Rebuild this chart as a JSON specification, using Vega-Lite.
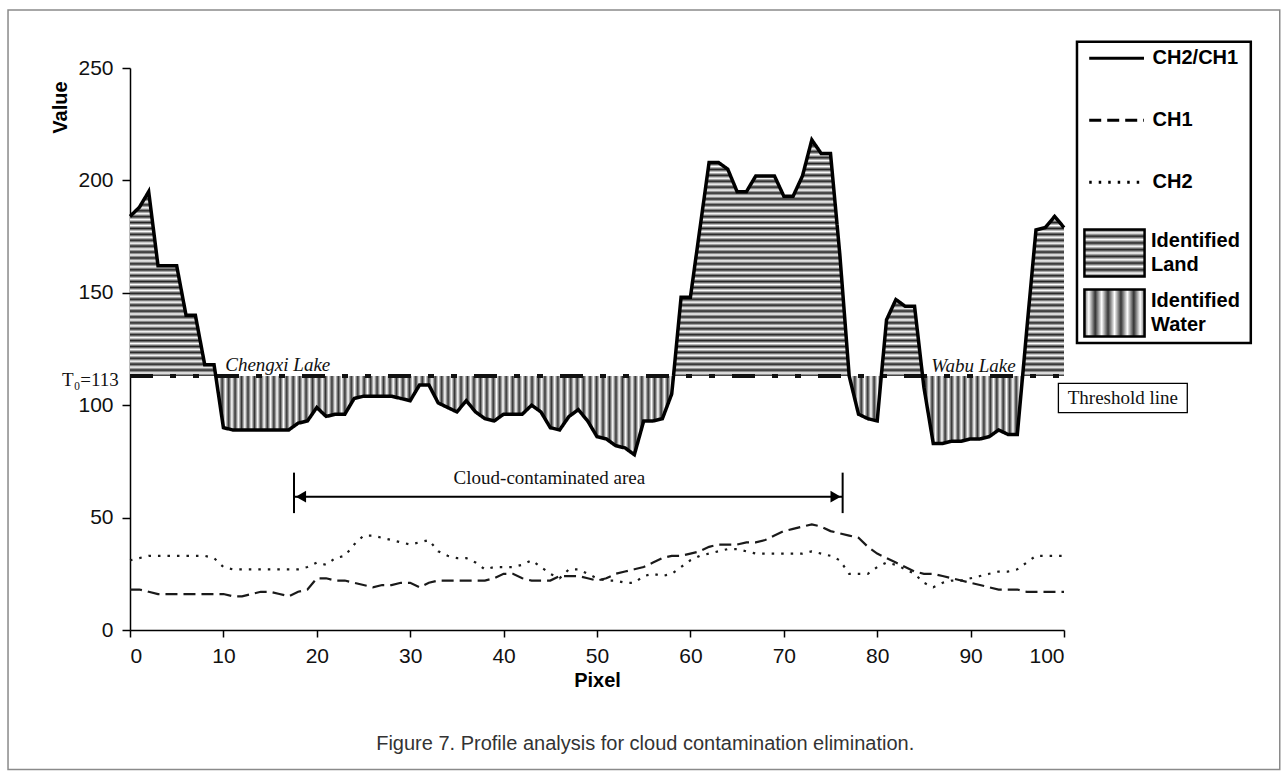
{
  "$schema": "https://vega.github.io/schema/vega-lite/v6.json",
  "usermeta": {"embedOptions": {"actions": false}},
  "width": 934,
  "height": 562,
  "autosize": {"type": "none"},
  "padding": {"left": 130, "top": 68, "right": 224, "bottom": 143},
  "background": "#ffffff",
  "config": {"view": {"stroke": null}, "axis": {"grid": false}},
  "data": {"values": [
    {"pixel": 0, "ratio": 184, "CH1": 18, "CH2": 31, "land": 184},
    {"pixel": 1, "ratio": 188, "CH1": 18, "CH2": 32, "land": 188},
    {"pixel": 2, "ratio": 195, "CH1": 17, "CH2": 33, "land": 195},
    {"pixel": 3, "ratio": 162, "CH1": 16, "CH2": 33, "land": 162},
    {"pixel": 4, "ratio": 162, "CH1": 16, "CH2": 33, "land": 162},
    {"pixel": 5, "ratio": 162, "CH1": 16, "CH2": 33, "land": 162},
    {"pixel": 6, "ratio": 140, "CH1": 16, "CH2": 33, "land": 140},
    {"pixel": 7, "ratio": 140, "CH1": 16, "CH2": 33, "land": 140},
    {"pixel": 8, "ratio": 118, "CH1": 16, "CH2": 33, "land": 118},
    {"pixel": 9, "ratio": 118, "CH1": 16, "CH2": 32, "land": 118},
    {"pixel": 9.18, "ratio": 113, "land": 113, "water": 113},
    {"pixel": 10, "ratio": 90, "CH1": 16, "CH2": 28, "water": 90},
    {"pixel": 11, "ratio": 89, "CH1": 15, "CH2": 27, "water": 89},
    {"pixel": 12, "ratio": 89, "CH1": 15, "CH2": 27, "water": 89},
    {"pixel": 13, "ratio": 89, "CH1": 16, "CH2": 27, "water": 89},
    {"pixel": 14, "ratio": 89, "CH1": 17, "CH2": 27, "water": 89},
    {"pixel": 15, "ratio": 89, "CH1": 17, "CH2": 27, "water": 89},
    {"pixel": 16, "ratio": 89, "CH1": 16, "CH2": 27, "water": 89},
    {"pixel": 17, "ratio": 89, "CH1": 15, "CH2": 27, "water": 89},
    {"pixel": 18, "ratio": 92, "CH1": 17, "CH2": 27, "water": 92},
    {"pixel": 19, "ratio": 93, "CH1": 18, "CH2": 28, "water": 93},
    {"pixel": 20, "ratio": 99, "CH1": 23, "CH2": 30, "water": 99},
    {"pixel": 21, "ratio": 95, "CH1": 23, "CH2": 29, "water": 95},
    {"pixel": 22, "ratio": 96, "CH1": 22, "CH2": 32, "water": 96},
    {"pixel": 23, "ratio": 96, "CH1": 22, "CH2": 33, "water": 96},
    {"pixel": 24, "ratio": 103, "CH1": 21, "CH2": 38, "water": 103},
    {"pixel": 25, "ratio": 104, "CH1": 20, "CH2": 42, "water": 104},
    {"pixel": 26, "ratio": 104, "CH1": 19, "CH2": 42, "water": 104},
    {"pixel": 27, "ratio": 104, "CH1": 20, "CH2": 41, "water": 104},
    {"pixel": 28, "ratio": 104, "CH1": 20, "CH2": 40, "water": 104},
    {"pixel": 29, "ratio": 103, "CH1": 21, "CH2": 39, "water": 103},
    {"pixel": 30, "ratio": 102, "CH1": 21, "CH2": 38, "water": 102},
    {"pixel": 31, "ratio": 109, "CH1": 19, "CH2": 39, "water": 109},
    {"pixel": 32, "ratio": 109, "CH1": 21, "CH2": 40, "water": 109},
    {"pixel": 33, "ratio": 101, "CH1": 22, "CH2": 35, "water": 101},
    {"pixel": 34, "ratio": 99, "CH1": 22, "CH2": 33, "water": 99},
    {"pixel": 35, "ratio": 97, "CH1": 22, "CH2": 32, "water": 97},
    {"pixel": 36, "ratio": 102, "CH1": 22, "CH2": 32, "water": 102},
    {"pixel": 37, "ratio": 97, "CH1": 22, "CH2": 30, "water": 97},
    {"pixel": 38, "ratio": 94, "CH1": 22, "CH2": 27, "water": 94},
    {"pixel": 39, "ratio": 93, "CH1": 23, "CH2": 28, "water": 93},
    {"pixel": 40, "ratio": 96, "CH1": 25, "CH2": 28, "water": 96},
    {"pixel": 41, "ratio": 96, "CH1": 25, "CH2": 28, "water": 96},
    {"pixel": 42, "ratio": 96, "CH1": 23, "CH2": 29, "water": 96},
    {"pixel": 43, "ratio": 100, "CH1": 22, "CH2": 31, "water": 100},
    {"pixel": 44, "ratio": 97, "CH1": 22, "CH2": 28, "water": 97},
    {"pixel": 45, "ratio": 90, "CH1": 22, "CH2": 25, "water": 90},
    {"pixel": 46, "ratio": 89, "CH1": 24, "CH2": 23, "water": 89},
    {"pixel": 47, "ratio": 95, "CH1": 24, "CH2": 27, "water": 95},
    {"pixel": 48, "ratio": 98, "CH1": 24, "CH2": 27, "water": 98},
    {"pixel": 49, "ratio": 93, "CH1": 23, "CH2": 25, "water": 93},
    {"pixel": 50, "ratio": 86, "CH1": 22, "CH2": 23, "water": 86},
    {"pixel": 51, "ratio": 85, "CH1": 23, "CH2": 22, "water": 85},
    {"pixel": 52, "ratio": 82, "CH1": 25, "CH2": 22, "water": 82},
    {"pixel": 53, "ratio": 81, "CH1": 26, "CH2": 21, "water": 81},
    {"pixel": 54, "ratio": 78, "CH1": 27, "CH2": 21, "water": 78},
    {"pixel": 55, "ratio": 93, "CH1": 28, "CH2": 24, "water": 93},
    {"pixel": 56, "ratio": 93, "CH1": 30, "CH2": 25, "water": 93},
    {"pixel": 57, "ratio": 94, "CH1": 32, "CH2": 24, "water": 94},
    {"pixel": 58, "ratio": 105, "CH1": 33, "CH2": 25, "water": 105},
    {"pixel": 58.19, "ratio": 113, "land": 113, "water": 113},
    {"pixel": 59, "ratio": 148, "CH1": 33, "CH2": 28, "land": 148},
    {"pixel": 60, "ratio": 148, "CH1": 34, "CH2": 31, "land": 148},
    {"pixel": 61, "ratio": 178, "CH1": 35, "CH2": 33, "land": 178},
    {"pixel": 62, "ratio": 208, "CH1": 37, "CH2": 34, "land": 208},
    {"pixel": 63, "ratio": 208, "CH1": 38, "CH2": 35, "land": 208},
    {"pixel": 64, "ratio": 205, "CH1": 38, "CH2": 36, "land": 205},
    {"pixel": 65, "ratio": 195, "CH1": 38, "CH2": 36, "land": 195},
    {"pixel": 66, "ratio": 195, "CH1": 39, "CH2": 35, "land": 195},
    {"pixel": 67, "ratio": 202, "CH1": 39, "CH2": 34, "land": 202},
    {"pixel": 68, "ratio": 202, "CH1": 40, "CH2": 34, "land": 202},
    {"pixel": 69, "ratio": 202, "CH1": 42, "CH2": 34, "land": 202},
    {"pixel": 70, "ratio": 193, "CH1": 44, "CH2": 34, "land": 193},
    {"pixel": 71, "ratio": 193, "CH1": 45, "CH2": 34, "land": 193},
    {"pixel": 72, "ratio": 202, "CH1": 46, "CH2": 34, "land": 202},
    {"pixel": 73, "ratio": 218, "CH1": 47, "CH2": 35, "land": 218},
    {"pixel": 74, "ratio": 212, "CH1": 46, "CH2": 34, "land": 212},
    {"pixel": 75, "ratio": 212, "CH1": 44, "CH2": 33, "land": 212},
    {"pixel": 76, "ratio": 167, "CH1": 43, "CH2": 31, "land": 167},
    {"pixel": 77, "ratio": 113, "CH1": 42, "CH2": 25, "land": 113, "water": 113},
    {"pixel": 78, "ratio": 96, "CH1": 41, "CH2": 25, "water": 96},
    {"pixel": 79, "ratio": 94, "CH1": 37, "CH2": 25, "water": 94},
    {"pixel": 80, "ratio": 93, "CH1": 34, "CH2": 28, "water": 93},
    {"pixel": 80.44, "ratio": 113, "land": 113, "water": 113},
    {"pixel": 81, "ratio": 138, "CH1": 32, "CH2": 30, "land": 138},
    {"pixel": 82, "ratio": 147, "CH1": 30, "CH2": 29, "land": 147},
    {"pixel": 83, "ratio": 144, "CH1": 28, "CH2": 27, "land": 144},
    {"pixel": 84, "ratio": 144, "CH1": 26, "CH2": 25, "land": 144},
    {"pixel": 84.86, "ratio": 113, "land": 113, "water": 113},
    {"pixel": 85, "ratio": 108, "CH1": 25, "CH2": 21, "water": 108},
    {"pixel": 86, "ratio": 83, "CH1": 25, "CH2": 19, "water": 83},
    {"pixel": 87, "ratio": 83, "CH1": 24, "CH2": 21, "water": 83},
    {"pixel": 88, "ratio": 84, "CH1": 23, "CH2": 22, "water": 84},
    {"pixel": 89, "ratio": 84, "CH1": 22, "CH2": 22, "water": 84},
    {"pixel": 90, "ratio": 85, "CH1": 21, "CH2": 23, "water": 85},
    {"pixel": 91, "ratio": 85, "CH1": 20, "CH2": 24, "water": 85},
    {"pixel": 92, "ratio": 86, "CH1": 19, "CH2": 25, "water": 86},
    {"pixel": 93, "ratio": 89, "CH1": 18, "CH2": 26, "water": 89},
    {"pixel": 94, "ratio": 87, "CH1": 18, "CH2": 26, "water": 87},
    {"pixel": 95, "ratio": 87, "CH1": 18, "CH2": 27, "water": 87},
    {"pixel": 95.57, "ratio": 113, "land": 113, "water": 113},
    {"pixel": 96, "ratio": 133, "CH1": 17, "CH2": 30, "land": 133},
    {"pixel": 97, "ratio": 178, "CH1": 17, "CH2": 33, "land": 178},
    {"pixel": 98, "ratio": 179, "CH1": 17, "CH2": 33, "land": 179},
    {"pixel": 99, "ratio": 184, "CH1": 17, "CH2": 33, "land": 184},
    {"pixel": 100, "ratio": 179, "CH1": 17, "CH2": 33, "land": 179}
  ]},
  "layer": [
    {
      "mark": {"type": "line", "color": "#000000", "strokeWidth": 0, "opacity": 0, "invalid": "filter"},
      "encoding": {
        "x": {
          "field": "pixel", "type": "quantitative", "title": "Pixel",
          "scale": {"domain": [0, 100], "nice": false},
          "axis": {
            "values": [0, 10, 20, 30, 40, 50, 60, 70, 80, 90, 100],
            "grid": false, "domainColor": "#000000", "domainWidth": 1.5, "tickColor": "#000000", "tickWidth": 1.5, "tickSize": 7,
            "labelFont": "Liberation Sans", "labelFontSize": 21, "labelColor": "#111111", "labelPadding": 8,
            "titleFont": "Liberation Sans", "titleFontSize": 20, "titleFontWeight": "bold", "titleColor": "#000000", "titlePadding": 4
          }
        },
        "y": {
          "field": "ratio", "type": "quantitative", "title": "Value",
          "scale": {"domain": [0, 250], "nice": false},
          "axis": {
            "values": [0, 50, 100, 150, 200, 250],
            "grid": false, "domainColor": "#000000", "domainWidth": 1.5, "tickColor": "#000000", "tickWidth": 1.5, "tickSize": 8,
            "labelFont": "Liberation Sans", "labelFontSize": 21, "labelColor": "#111111", "labelPadding": 9,
            "titleFont": "Liberation Sans", "titleFontSize": 20, "titleFontWeight": "bold", "titleColor": "#000000",
            "titleX": -70, "titleY": 39, "titleAlign": "center", "titleBaseline": "middle", "titleAngle": -90
          }
        }
      }
    },
    {
      "data": {"values": [{}]},
      "mark": {"type": "rect", "filled": false, "stroke": "#8a8a8a", "strokeWidth": 1.5},
      "encoding": {
        "x": {"datum": -13.06, "type": "quantitative", "title": "Pixel"},
        "x2": {"datum": 123.1},
        "y": {"datum": 275.8, "type": "quantitative", "title": "Value"},
        "y2": {"datum": -62}
      }
    },
    {
      "mark": {"type": "area", "invalid": "break-paths-show-domains"},
      "encoding": {
        "x": {"field": "pixel", "type": "quantitative", "title": "Pixel"},
        "y": {"field": "land", "type": "quantitative", "title": "Value"},
        "y2": {"datum": 113},
        "fill": {
          "datum": "Identified Land",
          "type": "nominal",
          "scale": {
            "domain": ["Identified Land", "Identified Water"],
            "range": [
              {"expr": "{gradient:'linear',x1:0,y1:0,x2:0,y2:1,stops:[{offset:0,color:'#222'},{offset:.0125,color:'#fff'},{offset:.025,color:'#222'},{offset:.0375,color:'#fff'},{offset:.05,color:'#222'},{offset:.0625,color:'#fff'},{offset:.075,color:'#222'},{offset:.0875,color:'#fff'},{offset:.1,color:'#222'},{offset:.1125,color:'#fff'},{offset:.125,color:'#222'},{offset:.1375,color:'#fff'},{offset:.15,color:'#222'},{offset:.1625,color:'#fff'},{offset:.175,color:'#222'},{offset:.1875,color:'#fff'},{offset:.2,color:'#222'},{offset:.2125,color:'#fff'},{offset:.225,color:'#222'},{offset:.2375,color:'#fff'},{offset:.25,color:'#222'},{offset:.2625,color:'#fff'},{offset:.275,color:'#222'},{offset:.2875,color:'#fff'},{offset:.3,color:'#222'},{offset:.3125,color:'#fff'},{offset:.325,color:'#222'},{offset:.3375,color:'#fff'},{offset:.35,color:'#222'},{offset:.3625,color:'#fff'},{offset:.375,color:'#222'},{offset:.3875,color:'#fff'},{offset:.4,color:'#222'},{offset:.4125,color:'#fff'},{offset:.425,color:'#222'},{offset:.4375,color:'#fff'},{offset:.45,color:'#222'},{offset:.4625,color:'#fff'},{offset:.475,color:'#222'},{offset:.4875,color:'#fff'},{offset:.5,color:'#222'},{offset:.5125,color:'#fff'},{offset:.525,color:'#222'},{offset:.5375,color:'#fff'},{offset:.55,color:'#222'},{offset:.5625,color:'#fff'},{offset:.575,color:'#222'},{offset:.5875,color:'#fff'},{offset:.6,color:'#222'},{offset:.6125,color:'#fff'},{offset:.625,color:'#222'},{offset:.6375,color:'#fff'},{offset:.65,color:'#222'},{offset:.6625,color:'#fff'},{offset:.675,color:'#222'},{offset:.6875,color:'#fff'},{offset:.7,color:'#222'},{offset:.7125,color:'#fff'},{offset:.725,color:'#222'},{offset:.7375,color:'#fff'},{offset:.75,color:'#222'},{offset:.7625,color:'#fff'},{offset:.775,color:'#222'},{offset:.7875,color:'#fff'},{offset:.8,color:'#222'},{offset:.8125,color:'#fff'},{offset:.825,color:'#222'},{offset:.8375,color:'#fff'},{offset:.85,color:'#222'},{offset:.8625,color:'#fff'},{offset:.875,color:'#222'},{offset:.8875,color:'#fff'},{offset:.9,color:'#222'},{offset:.9125,color:'#fff'},{offset:.925,color:'#222'},{offset:.9375,color:'#fff'},{offset:.95,color:'#222'},{offset:.9625,color:'#fff'},{offset:.975,color:'#222'},{offset:.9875,color:'#fff'},{offset:1,color:'#222'}]}"},
              {"expr": "{gradient:'linear',x1:0,y1:0,x2:1,y2:0,stops:[{offset:0,color:'#333'},{offset:.004,color:'#fff'},{offset:.008,color:'#333'},{offset:.012,color:'#fff'},{offset:.016,color:'#333'},{offset:.02,color:'#fff'},{offset:.024,color:'#333'},{offset:.028,color:'#fff'},{offset:.032,color:'#333'},{offset:.036,color:'#fff'},{offset:.04,color:'#333'},{offset:.044,color:'#fff'},{offset:.048,color:'#333'},{offset:.052,color:'#fff'},{offset:.056,color:'#333'},{offset:.06,color:'#fff'},{offset:.064,color:'#333'},{offset:.068,color:'#fff'},{offset:.072,color:'#333'},{offset:.076,color:'#fff'},{offset:.08,color:'#333'},{offset:.084,color:'#fff'},{offset:.088,color:'#333'},{offset:.092,color:'#fff'},{offset:.096,color:'#333'},{offset:.1,color:'#fff'},{offset:.104,color:'#333'},{offset:.108,color:'#fff'},{offset:.112,color:'#333'},{offset:.116,color:'#fff'},{offset:.12,color:'#333'},{offset:.124,color:'#fff'},{offset:.128,color:'#333'},{offset:.132,color:'#fff'},{offset:.136,color:'#333'},{offset:.14,color:'#fff'},{offset:.144,color:'#333'},{offset:.148,color:'#fff'},{offset:.152,color:'#333'},{offset:.156,color:'#fff'},{offset:.16,color:'#333'},{offset:.164,color:'#fff'},{offset:.168,color:'#333'},{offset:.172,color:'#fff'},{offset:.176,color:'#333'},{offset:.18,color:'#fff'},{offset:.184,color:'#333'},{offset:.188,color:'#fff'},{offset:.192,color:'#333'},{offset:.196,color:'#fff'},{offset:.2,color:'#333'},{offset:.204,color:'#fff'},{offset:.208,color:'#333'},{offset:.212,color:'#fff'},{offset:.216,color:'#333'},{offset:.22,color:'#fff'},{offset:.224,color:'#333'},{offset:.228,color:'#fff'},{offset:.232,color:'#333'},{offset:.236,color:'#fff'},{offset:.24,color:'#333'},{offset:.244,color:'#fff'},{offset:.248,color:'#333'},{offset:.252,color:'#fff'},{offset:.256,color:'#333'},{offset:.26,color:'#fff'},{offset:.264,color:'#333'},{offset:.268,color:'#fff'},{offset:.272,color:'#333'},{offset:.276,color:'#fff'},{offset:.28,color:'#333'},{offset:.284,color:'#fff'},{offset:.288,color:'#333'},{offset:.292,color:'#fff'},{offset:.296,color:'#333'},{offset:.3,color:'#fff'},{offset:.304,color:'#333'},{offset:.308,color:'#fff'},{offset:.312,color:'#333'},{offset:.316,color:'#fff'},{offset:.32,color:'#333'},{offset:.324,color:'#fff'},{offset:.328,color:'#333'},{offset:.332,color:'#fff'},{offset:.336,color:'#333'},{offset:.34,color:'#fff'},{offset:.344,color:'#333'},{offset:.348,color:'#fff'},{offset:.352,color:'#333'},{offset:.356,color:'#fff'},{offset:.36,color:'#333'},{offset:.364,color:'#fff'},{offset:.368,color:'#333'},{offset:.372,color:'#fff'},{offset:.376,color:'#333'},{offset:.38,color:'#fff'},{offset:.384,color:'#333'},{offset:.388,color:'#fff'},{offset:.392,color:'#333'},{offset:.396,color:'#fff'},{offset:.4,color:'#333'},{offset:.404,color:'#fff'},{offset:.408,color:'#333'},{offset:.412,color:'#fff'},{offset:.416,color:'#333'},{offset:.42,color:'#fff'},{offset:.424,color:'#333'},{offset:.428,color:'#fff'},{offset:.432,color:'#333'},{offset:.436,color:'#fff'},{offset:.44,color:'#333'},{offset:.444,color:'#fff'},{offset:.448,color:'#333'},{offset:.452,color:'#fff'},{offset:.456,color:'#333'},{offset:.46,color:'#fff'},{offset:.464,color:'#333'},{offset:.468,color:'#fff'},{offset:.472,color:'#333'},{offset:.476,color:'#fff'},{offset:.48,color:'#333'},{offset:.484,color:'#fff'},{offset:.488,color:'#333'},{offset:.492,color:'#fff'},{offset:.496,color:'#333'},{offset:.5,color:'#fff'},{offset:.504,color:'#333'},{offset:.508,color:'#fff'},{offset:.512,color:'#333'},{offset:.516,color:'#fff'},{offset:.52,color:'#333'},{offset:.524,color:'#fff'},{offset:.528,color:'#333'},{offset:.532,color:'#fff'},{offset:.536,color:'#333'},{offset:.54,color:'#fff'},{offset:.544,color:'#333'},{offset:.548,color:'#fff'},{offset:.552,color:'#333'},{offset:.556,color:'#fff'},{offset:.56,color:'#333'},{offset:.564,color:'#fff'},{offset:.568,color:'#333'},{offset:.572,color:'#fff'},{offset:.576,color:'#333'},{offset:.58,color:'#fff'},{offset:.584,color:'#333'},{offset:.588,color:'#fff'},{offset:.592,color:'#333'},{offset:.596,color:'#fff'},{offset:.6,color:'#333'},{offset:.604,color:'#fff'},{offset:.608,color:'#333'},{offset:.612,color:'#fff'},{offset:.616,color:'#333'},{offset:.62,color:'#fff'},{offset:.624,color:'#333'},{offset:.628,color:'#fff'},{offset:.632,color:'#333'},{offset:.636,color:'#fff'},{offset:.64,color:'#333'},{offset:.644,color:'#fff'},{offset:.648,color:'#333'},{offset:.652,color:'#fff'},{offset:.656,color:'#333'},{offset:.66,color:'#fff'},{offset:.664,color:'#333'},{offset:.668,color:'#fff'},{offset:.672,color:'#333'},{offset:.676,color:'#fff'},{offset:.68,color:'#333'},{offset:.684,color:'#fff'},{offset:.688,color:'#333'},{offset:.692,color:'#fff'},{offset:.696,color:'#333'},{offset:.7,color:'#fff'},{offset:.704,color:'#333'},{offset:.708,color:'#fff'},{offset:.712,color:'#333'},{offset:.716,color:'#fff'},{offset:.72,color:'#333'},{offset:.724,color:'#fff'},{offset:.728,color:'#333'},{offset:.732,color:'#fff'},{offset:.736,color:'#333'},{offset:.74,color:'#fff'},{offset:.744,color:'#333'},{offset:.748,color:'#fff'},{offset:.752,color:'#333'},{offset:.756,color:'#fff'},{offset:.76,color:'#333'},{offset:.764,color:'#fff'},{offset:.768,color:'#333'},{offset:.772,color:'#fff'},{offset:.776,color:'#333'},{offset:.78,color:'#fff'},{offset:.784,color:'#333'},{offset:.788,color:'#fff'},{offset:.792,color:'#333'},{offset:.796,color:'#fff'},{offset:.8,color:'#333'},{offset:.804,color:'#fff'},{offset:.808,color:'#333'},{offset:.812,color:'#fff'},{offset:.816,color:'#333'},{offset:.82,color:'#fff'},{offset:.824,color:'#333'},{offset:.828,color:'#fff'},{offset:.832,color:'#333'},{offset:.836,color:'#fff'},{offset:.84,color:'#333'},{offset:.844,color:'#fff'},{offset:.848,color:'#333'},{offset:.852,color:'#fff'},{offset:.856,color:'#333'},{offset:.86,color:'#fff'},{offset:.864,color:'#333'},{offset:.868,color:'#fff'},{offset:.872,color:'#333'},{offset:.876,color:'#fff'},{offset:.88,color:'#333'},{offset:.884,color:'#fff'},{offset:.888,color:'#333'},{offset:.892,color:'#fff'},{offset:.896,color:'#333'},{offset:.9,color:'#fff'},{offset:.904,color:'#333'},{offset:.908,color:'#fff'},{offset:.912,color:'#333'},{offset:.916,color:'#fff'},{offset:.92,color:'#333'},{offset:.924,color:'#fff'},{offset:.928,color:'#333'},{offset:.932,color:'#fff'},{offset:.936,color:'#333'},{offset:.94,color:'#fff'},{offset:.944,color:'#333'},{offset:.948,color:'#fff'},{offset:.952,color:'#333'},{offset:.956,color:'#fff'},{offset:.96,color:'#333'},{offset:.964,color:'#fff'},{offset:.968,color:'#333'},{offset:.972,color:'#fff'},{offset:.976,color:'#333'},{offset:.98,color:'#fff'},{offset:.984,color:'#333'},{offset:.988,color:'#fff'},{offset:.992,color:'#333'},{offset:.996,color:'#fff'},{offset:1,color:'#333'}]}"}
            ]
          },
          "legend": {
            "orient": "none", "legendX": 959.5, "legendY": 160, "title": null, "padding": 0,
            "symbolType": "M-1.28,-1H1.28V1H-1.28Z", "symbolSize": 2209,
            "labelExpr": "split(datum.label, ' ')",
            "labelFont": "Liberation Sans", "labelFontSize": 20, "labelFontWeight": "bold", "labelColor": "#000000",
            "labelOffset": 11.5, "rowPadding": 2, "labelLimit": 300, "labelBaseline": "middle",
            "encode": {
              "symbols": {"update": {"stroke": {"value": "#000000"}, "strokeWidth": {"value": 2.5}}},
              "labels": {"update": {"lineHeight": {"value": 24}, "dy": {"value": -12}}}
            }
          }
        }
      }
    },
    {
      "mark": {"type": "area", "invalid": "break-paths-show-domains"},
      "encoding": {
        "x": {"field": "pixel", "type": "quantitative", "title": "Pixel"},
        "y": {"field": "water", "type": "quantitative", "title": "Value"},
        "y2": {"datum": 113},
        "fill": {"datum": "Identified Water", "type": "nominal"}
      }
    },
    {
      "data": {"values": [{}]},
      "mark": {"type": "rule", "color": "#111111", "strokeWidth": 4, "strokeDash": [23, 17, 6, 17, 6, 17]},
      "encoding": {
        "x": {"datum": 0, "type": "quantitative", "title": "Pixel"},
        "x2": {"datum": 101.2},
        "y": {"datum": 113, "type": "quantitative", "title": "Value"}
      }
    },
    {
      "mark": {"type": "line", "color": "#000000", "strokeWidth": 3.5, "invalid": "filter"},
      "encoding": {
        "x": {"field": "pixel", "type": "quantitative", "title": "Pixel"},
        "y": {"field": "ratio", "type": "quantitative", "title": "Value"},
        "strokeDash": {
          "datum": "CH2/CH1", "type": "nominal", "title": null,
          "scale": {"domain": ["CH2/CH1", "CH1", "CH2"], "range": [[1, 0], [12, 6], [2.5, 7]]},
          "legend": {
            "orient": "none", "legendX": 957.6, "legendY": -38.7, "title": null, "padding": 0,
            "symbolType": "stroke", "symbolSize": 3000, "symbolStrokeWidth": 3, "symbolStrokeColor": "#000000",
            "labelFont": "Liberation Sans", "labelFontSize": 20, "labelFontWeight": "bold", "labelColor": "#000000",
            "labelOffset": 7, "rowPadding": 23, "labelLimit": 300, "labelBaseline": "middle",
            "encode": {"symbols": {"update": {"stroke": {"value": "#000000"}, "strokeWidth": {"value": 3}}}}
          }
        }
      }
    },
    {
      "transform": [{"fold": ["CH1", "CH2"], "as": ["series", "v"]}],
      "mark": {"type": "line", "color": "#1a1a1a", "strokeWidth": 2.2, "invalid": "filter"},
      "encoding": {
        "x": {"field": "pixel", "type": "quantitative", "title": "Pixel"},
        "y": {"field": "v", "type": "quantitative", "title": "Value"},
        "strokeDash": {"field": "series", "type": "nominal", "title": null},
        "detail": {"field": "series"}
      }
    },
    {
      "data": {"values": [{}]},
      "mark": {"type": "text", "text": "Chengxi Lake", "font": "Liberation Serif", "fontSize": 19, "fontStyle": "italic", "align": "left", "baseline": "middle", "color": "#111111"},
      "encoding": {
        "x": {"datum": 10.2, "type": "quantitative", "title": "Pixel"},
        "y": {"datum": 118, "type": "quantitative", "title": "Value"}
      }
    },
    {
      "data": {"values": [{}]},
      "mark": {"type": "text", "text": "Wabu Lake", "font": "Liberation Serif", "fontSize": 19, "fontStyle": "italic", "align": "left", "baseline": "middle", "color": "#111111"},
      "encoding": {
        "x": {"datum": 85.8, "type": "quantitative", "title": "Pixel"},
        "y": {"datum": 117.3, "type": "quantitative", "title": "Value"}
      }
    },
    {
      "data": {"values": [{}]},
      "mark": {"type": "text", "text": "T₀=113", "font": "Liberation Serif", "fontSize": 19, "align": "right", "baseline": "middle", "color": "#111111"},
      "encoding": {
        "x": {"datum": -1.2, "type": "quantitative", "title": "Pixel"},
        "y": {"datum": 111, "type": "quantitative", "title": "Value"}
      }
    },
    {
      "data": {"values": [{}]},
      "mark": {"type": "text", "text": "Cloud-contaminated area", "font": "Liberation Serif", "fontSize": 19, "align": "center", "baseline": "middle", "color": "#111111"},
      "encoding": {
        "x": {"datum": 44.9, "type": "quantitative", "title": "Pixel"},
        "y": {"datum": 67.6, "type": "quantitative", "title": "Value"}
      }
    },
    {
      "data": {"values": [{}]},
      "mark": {"type": "rule", "color": "#000000", "strokeWidth": 2},
      "encoding": {
        "x": {"datum": 17.56, "type": "quantitative", "title": "Pixel"},
        "x2": {"datum": 76.3},
        "y": {"datum": 59.3, "type": "quantitative", "title": "Value"}
      }
    },
    {
      "data": {"values": [{}]},
      "mark": {"type": "rule", "color": "#000000", "strokeWidth": 2},
      "encoding": {
        "x": {"datum": 17.56, "type": "quantitative", "title": "Pixel"},
        "y": {"datum": 70, "type": "quantitative", "title": "Value"},
        "y2": {"datum": 52}
      }
    },
    {
      "data": {"values": [{}]},
      "mark": {"type": "rule", "color": "#000000", "strokeWidth": 2},
      "encoding": {
        "x": {"datum": 76.3, "type": "quantitative", "title": "Pixel"},
        "y": {"datum": 70, "type": "quantitative", "title": "Value"},
        "y2": {"datum": 52}
      }
    },
    {
      "data": {"values": [{}]},
      "mark": {"type": "point", "shape": "triangle-left", "filled": true, "color": "#000000", "size": 140, "opacity": 1},
      "encoding": {
        "x": {"datum": 18.3, "type": "quantitative", "title": "Pixel"},
        "y": {"datum": 59.3, "type": "quantitative", "title": "Value"}
      }
    },
    {
      "data": {"values": [{}]},
      "mark": {"type": "point", "shape": "triangle-right", "filled": true, "color": "#000000", "size": 140, "opacity": 1},
      "encoding": {
        "x": {"datum": 75.55, "type": "quantitative", "title": "Pixel"},
        "y": {"datum": 59.3, "type": "quantitative", "title": "Value"}
      }
    },
    {
      "data": {"values": [{}]},
      "mark": {"type": "rect", "fill": "#ffffff", "stroke": "#000000", "strokeWidth": 1.3},
      "encoding": {
        "x": {"datum": 99.4, "type": "quantitative", "title": "Pixel"},
        "x2": {"datum": 113.2},
        "y": {"datum": 109.7, "type": "quantitative", "title": "Value"},
        "y2": {"datum": 96.7}
      }
    },
    {
      "data": {"values": [{}]},
      "mark": {"type": "text", "text": "Threshold line", "font": "Liberation Serif", "fontSize": 19, "align": "center", "baseline": "middle", "color": "#111111"},
      "encoding": {
        "x": {"datum": 106.3, "type": "quantitative", "title": "Pixel"},
        "y": {"datum": 103.2, "type": "quantitative", "title": "Value"}
      }
    },
    {
      "data": {"values": [{}]},
      "mark": {"type": "rect", "filled": false, "stroke": "#000000", "strokeWidth": 2.5},
      "encoding": {
        "x": {"datum": 101.39, "type": "quantitative", "title": "Pixel"},
        "x2": {"datum": 120.0},
        "y": {"datum": 261.7, "type": "quantitative", "title": "Value"},
        "y2": {"datum": 127.7}
      }
    },
    {
      "data": {"values": [{}]},
      "mark": {"type": "text", "text": "Figure 7. Profile analysis for cloud contamination elimination.", "font": "Liberation Sans", "fontSize": 20, "align": "center", "baseline": "middle", "color": "#333333"},
      "encoding": {
        "x": {"datum": 55.16, "type": "quantitative", "title": "Pixel"},
        "y": {"datum": -50.7, "type": "quantitative", "title": "Value"}
      }
    }
  ]
}
